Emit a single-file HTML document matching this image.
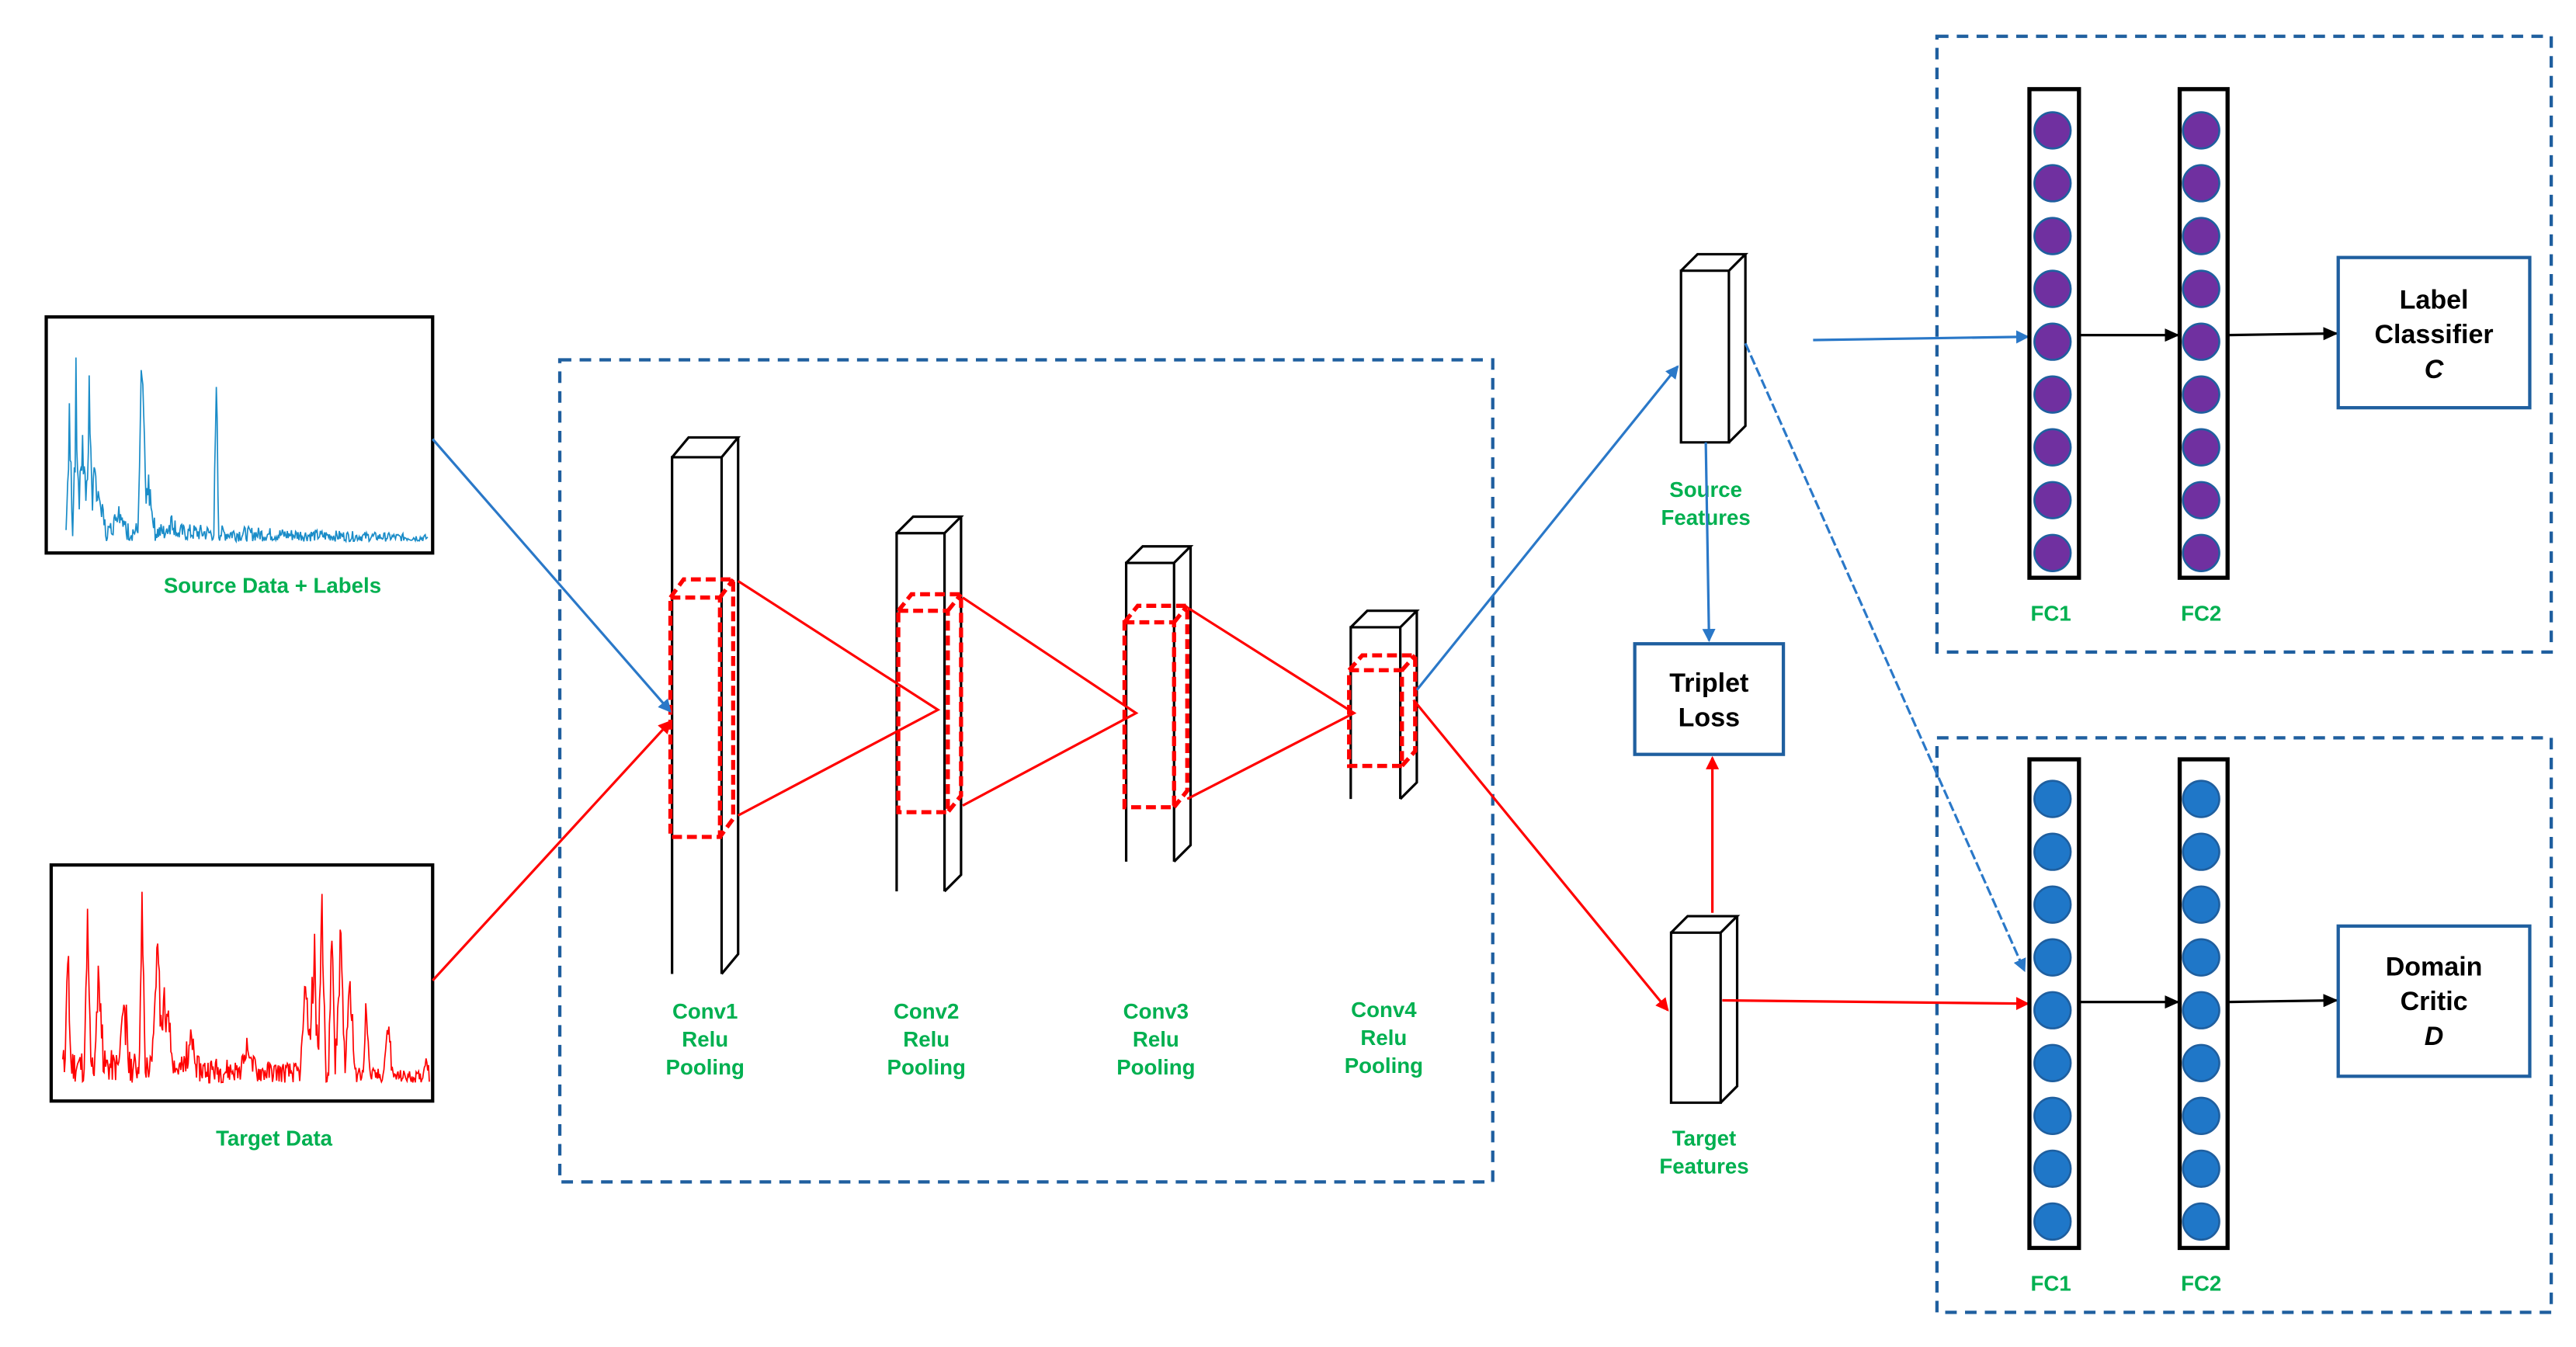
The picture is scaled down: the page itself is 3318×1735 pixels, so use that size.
<!DOCTYPE html>
<html><head><meta charset="utf-8"><style>
html,body{margin:0;padding:0;background:#fff;}
svg{display:block;}
text{font-family:"Liberation Sans",sans-serif;font-weight:bold;}
.g{fill:#00b050;font-size:13px;text-anchor:middle;}
.k{fill:#000;font-size:16px;text-anchor:middle;}
</style></head><body>
<svg width="3318" height="1735" viewBox="0 0 1560 816" preserveAspectRatio="none" xmlns="http://www.w3.org/2000/svg">
<defs>
<marker id="ab" markerWidth="8" markerHeight="8" refX="7" refY="4" orient="auto" markerUnits="userSpaceOnUse"><path d="M0,0 L8,4 L0,8z" fill="#2a78c8"/></marker>
<marker id="ar" markerWidth="8" markerHeight="8" refX="7" refY="4" orient="auto" markerUnits="userSpaceOnUse"><path d="M0,0 L8,4 L0,8z" fill="#f00"/></marker>
<marker id="ak" markerWidth="9" markerHeight="8" refX="8" refY="4" orient="auto" markerUnits="userSpaceOnUse"><path d="M0,0 L9,4 L0,8z" fill="#000"/></marker>
</defs>
<!-- data boxes -->
<rect x="28" y="192" width="234" height="143" fill="#fff" stroke="#000" stroke-width="2"/>
<path id="sp1" fill="none" stroke="#1a8cc8" stroke-width="0.8"/>
<text class="g" x="165" y="359">Source Data + Labels</text>
<rect x="31" y="524" width="231" height="143" fill="#fff" stroke="#000" stroke-width="2"/>
<path id="sp2" fill="none" stroke="#f00" stroke-width="0.8"/>
<text class="g" x="166" y="694">Target Data</text>
<!-- dashed boxes -->
<g fill="none" stroke="#1f5f9f" stroke-width="2" stroke-dasharray="7,5">
<rect x="339" y="218" width="565" height="498"/>
<rect x="1173" y="22" width="372" height="373"/>
<rect x="1173" y="447" width="372" height="348"/>
</g>
<!-- conv columns -->
<g fill="#fff" stroke="#000" stroke-width="1.5">
<path d="M407,590 V277 H437 V590 M407,277 L417,265 H447 L437,277 M447,265 V578 L437,590"/>
<path d="M543,540 V323 H572 V540 M543,323 L553,313 H582 L572,323 M582,313 V530 L572,540"/>
<path d="M682,522 V341 H711 V522 M682,341 L692,331 H721 L711,341 M721,331 V512 L711,522"/>
<path d="M818,484 V380 H848 V484 M818,380 L828,370 H858 L848,380 M858,370 V474 L848,484"/>
</g>
<!-- red triangles -->
<g fill="none" stroke="#f00" stroke-width="1.5">
<path d="M447,352 L568,430 L447,494"/>
<path d="M583,362 L688,432 L583,488"/>
<path d="M719,368 L820,432 L719,484"/>
</g>
<g fill="none" stroke="#f00" stroke-width="2.5" stroke-dasharray="6,3">
<path d="M406,362 H436 V507 H406Z M406,362 L414,351 H444 V496 L436,507 M436,362 L444,351"/>
<path d="M544,370 H574 V492 H544Z M544,370 L552,360 H582 V482 L574,492 M574,370 L582,360"/>
<path d="M681,377 H711 V489 H681Z M681,377 L689,367 H719 V479 L711,489 M711,377 L719,367"/>
<path d="M817,406 H849 V464 H817Z M817,406 L825,397 H857 V455 L849,464 M849,406 L857,397"/>
</g>
<g class="g">
<text x="427" y="617">Conv1</text><text x="427" y="634">Relu</text><text x="427" y="651">Pooling</text>
<text x="561" y="617">Conv2</text><text x="561" y="634">Relu</text><text x="561" y="651">Pooling</text>
<text x="700" y="617">Conv3</text><text x="700" y="634">Relu</text><text x="700" y="651">Pooling</text>
<text x="838" y="616">Conv4</text><text x="838" y="633">Relu</text><text x="838" y="650">Pooling</text>
</g>
<!-- input arrows -->
<line x1="262" y1="266" x2="406" y2="431" stroke="#2a78c8" stroke-width="1.5" marker-end="url(#ab)"/>
<line x1="262" y1="594" x2="406" y2="437" stroke="#f00" stroke-width="1.5" marker-end="url(#ar)"/>
<!-- feature blocks -->
<g fill="#fff" stroke="#000" stroke-width="1.5">
<path d="M1018,164 H1047 V268 H1018Z M1018,164 L1028,154 H1057 L1047,164 M1057,154 V258 L1047,268"/>
<path d="M1012,565 H1042 V668 H1012Z M1012,565 L1022,555 H1052 L1042,565 M1052,555 V658 L1042,668"/>
</g>
<text class="g" x="1033" y="301">Source</text><text class="g" x="1033" y="318">Features</text>
<text class="g" x="1032" y="694">Target</text><text class="g" x="1032" y="711">Features</text>
<rect x="990" y="390" width="90" height="67" fill="#fff" stroke="#1f5f9f" stroke-width="2"/>
<text class="k" x="1035" y="419">Triplet</text><text class="k" x="1035" y="440">Loss</text>
<line x1="1033" y1="268" x2="1035" y2="388" stroke="#2a78c8" stroke-width="1.5" marker-end="url(#ab)"/>
<line x1="1037" y1="553" x2="1037" y2="459" stroke="#f00" stroke-width="1.5" marker-end="url(#ar)"/>
<line x1="858" y1="418" x2="1016" y2="222" stroke="#2a78c8" stroke-width="1.5" marker-end="url(#ab)"/>
<line x1="856" y1="424" x2="1010" y2="612" stroke="#f00" stroke-width="1.5" marker-end="url(#ar)"/>
<line x1="1057" y1="208" x2="1226" y2="588" stroke="#2a78c8" stroke-width="1.5" stroke-dasharray="6,2" marker-end="url(#ab)"/>
<line x1="1098" y1="206" x2="1228" y2="204" stroke="#2a78c8" stroke-width="1.5" marker-end="url(#ab)"/>
<line x1="1043" y1="606" x2="1228" y2="608" stroke="#f00" stroke-width="1.5" marker-end="url(#ar)"/>
<!-- FC layers -->
<g fill="none" stroke="#000" stroke-width="2.5">
<rect x="1229" y="54" width="30" height="296"/><rect x="1320" y="54" width="29" height="296"/>
<rect x="1229" y="460" width="30" height="296"/><rect x="1320" y="460" width="29" height="296"/>
</g>
<g id="circ"></g>
<line x1="1259" y1="203" x2="1319" y2="203" stroke="#000" stroke-width="1.5" marker-end="url(#ak)"/>
<line x1="1349" y1="203" x2="1415" y2="202" stroke="#000" stroke-width="1.5" marker-end="url(#ak)"/>
<line x1="1259" y1="607" x2="1319" y2="607" stroke="#000" stroke-width="1.5" marker-end="url(#ak)"/>
<line x1="1349" y1="607" x2="1415" y2="606" stroke="#000" stroke-width="1.5" marker-end="url(#ak)"/>
<rect x="1416" y="156" width="116" height="91" fill="#fff" stroke="#1f5f9f" stroke-width="2"/>
<text class="k" x="1474" y="187">Label</text><text class="k" x="1474" y="208">Classifier</text><text class="k" x="1474" y="229" font-style="italic">C</text>
<rect x="1416" y="561" width="116" height="91" fill="#fff" stroke="#1f5f9f" stroke-width="2"/>
<text class="k" x="1474" y="591">Domain</text><text class="k" x="1474" y="612">Critic</text><text class="k" x="1474" y="633" font-style="italic">D</text>
<text class="g" x="1242" y="376">FC1</text><text class="g" x="1333" y="376">FC2</text>
<text class="g" x="1242" y="782">FC1</text><text class="g" x="1333" y="782">FC2</text>
</svg>
<script>
(function(){
var ns="http://www.w3.org/2000/svg",g=document.getElementById("circ"),s="";
for(var i=0;i<9;i++){
 [[1243,79,"#7030a0"],[1333,79,"#7030a0"],[1243,484,"#1f77c8"],[1333,484,"#1f77c8"]].forEach(function(c){
  s+='<circle cx="'+c[0]+'" cy="'+(c[1]+i*32)+'" r="11" fill="'+c[2]+'" stroke="#1f5f9f" stroke-width="1.2"/>';});
}
g.innerHTML=s;
var seed=7;function r(){seed=(seed*9301+49297)%233280;return seed/233280;}
function spec(x0,x1,base,top,peaks,noise){
 var d="";for(var x=x0;x<=x1;x+=0.5){var y=base-r()*noise*(1-(x-x0)/(x1-x0)*0.7);
  peaks.forEach(function(p){var dx=Math.abs(x-p[0]);if(dx<p[2])y-=p[1]*(1-dx/p[2])*(0.5+r()*0.5);});
  if(y<top)y=top;d+=(d?"L":"M")+x.toFixed(1)+","+y.toFixed(1);}
 return d;}
document.getElementById("sp1").setAttribute("d",spec(40,259,328,198,
 [[42,90,2],[46,100,2],[50,80,3],[54,85,2],[58,40,6],[72,20,5],[86,125,2.5],[90,35,4],[104,10,4],[131,118,1.5]],14));
seed=11;
document.getElementById("sp2").setAttribute("d",spec(38,260,656,530,
 [[41,80,2],[53,100,2],[60,70,3],[75,60,3],[86,120,2],[95,90,3],[100,50,6],[115,25,4],[150,20,5],[185,80,3],[190,100,3],[195,120,2.5],[201,130,2],[206,110,3],[212,80,3],[222,60,2],[235,40,3],[258,20,2]],22));
})();
</script>
</body></html>
